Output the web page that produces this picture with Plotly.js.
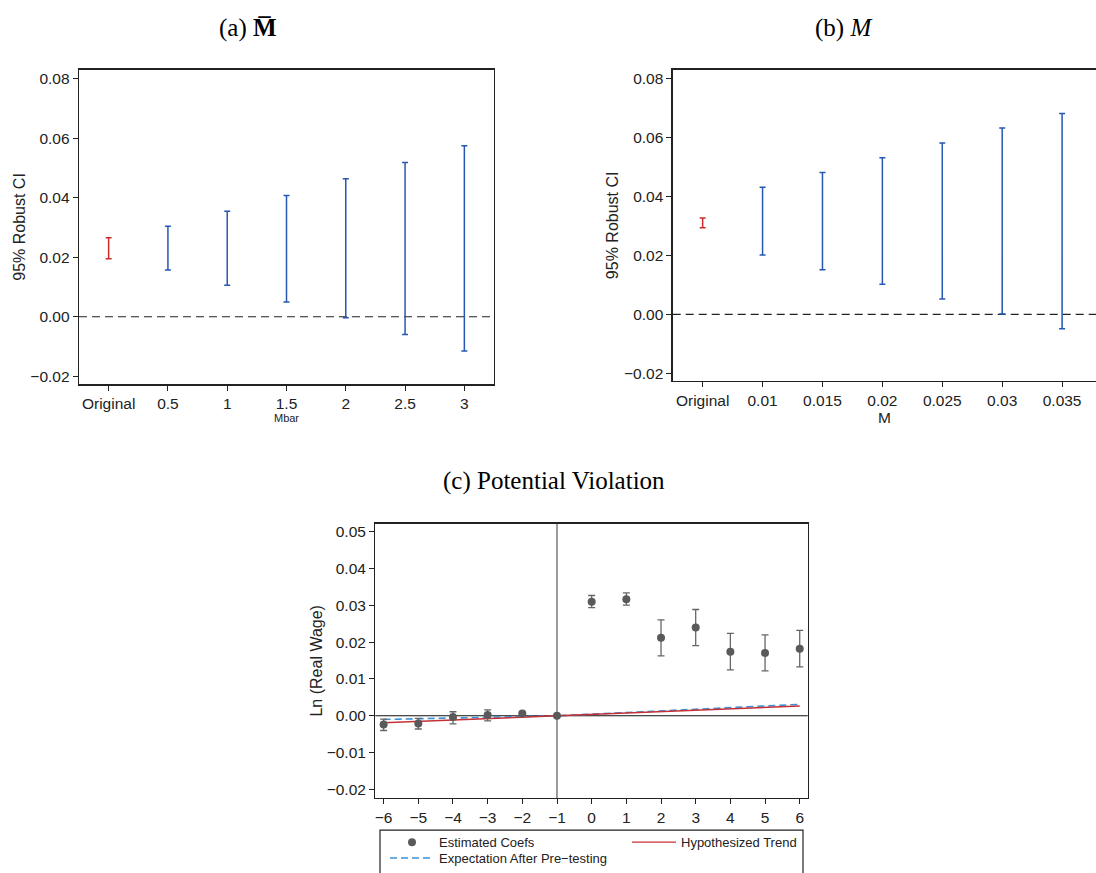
<!DOCTYPE html>
<html>
<head>
<meta charset="utf-8">
<script src="https://cdn.plot.ly/plotly-3.0.1.min.js"></script>
<style>
  html, body { margin: 0; padding: 0; background: #fff; }
  #chart { width: 1096px; height: 873px; }
</style>
</head>
<body>
<div id="chart"></div>
<script>
// (a) Robust confidence intervals by Mbar (relative magnitudes)
const mbarLabels = ['Original', '0.5', '1', '1.5', '2', '2.5', '3'];
const mbarLower  = [0.0195, 0.0157, 0.0106, 0.0050, -0.0003, -0.0060, -0.0115];
const mbarUpper  = [0.0266, 0.0304, 0.0355, 0.0408, 0.0464, 0.0519, 0.0575];

// (b) Robust confidence intervals by M (smoothness restriction)
const mLabels = ['Original', '0.01', '0.015', '0.02', '0.025', '0.03', '0.035'];
const mLower  = [0.0294, 0.0202, 0.0152, 0.0102, 0.0052, 0.0001, -0.0049];
const mUpper  = [0.0327, 0.0432, 0.0482, 0.0532, 0.0582, 0.0633, 0.0682];

// (c) Event-study coefficients with 95% CIs
const eventTime = [-6, -5, -4, -3, -2, -1, 0, 1, 2, 3, 4, 5, 6];
const coefs     = [-0.0024, -0.0021, -0.0003, 0.0002, 0.0006, 0, 0.0310, 0.0317, 0.0212, 0.0240, 0.0174, 0.0171, 0.0182];
const coefLow   = [-0.0040, -0.0036, -0.0022, -0.0014, 0.0003, 0, 0.0294, 0.0301, 0.0163, 0.0191, 0.0125, 0.0122, 0.0133];
const coefHigh  = [-0.0009, -0.0007, 0.0011, 0.0016, 0.0009, 0, 0.0327, 0.0334, 0.0261, 0.0289, 0.0224, 0.0220, 0.0232];

// Hypothesized linear trend and expectation after pre-testing
const trendX = [-6, -1, 6];
const trendY = [-0.0019, 0, 0.00266];
const expectX = [-6, -1, 6];
const expectY = [-0.0010, 0, 0.0031];

const W = 1096, H = 873;
const px = v => v / W;            // horizontal pixel -> paper
const py = v => 1 - v / H;        // vertical pixel -> paper

const SANS = 'Liberation Sans, Arial, Helvetica, sans-serif';
const SERIF = 'Liberation Serif, Times New Roman, serif';
const RED = '#cc2a2a';
const BLUE = '#2557b3';

// Interval traces: an invisible centre point with asymmetric error bars
function intervalTrace(labels, lo, hi, idx, color, xa, ya) {
  const xs = idx.map(i => labels[i]);
  const mid = idx.map(i => (lo[i] + hi[i]) / 2);
  return {
    type: 'scatter', mode: 'markers', xaxis: xa, yaxis: ya, showlegend: false,
    x: xs, y: mid,
    marker: { size: 1, color: 'rgba(0,0,0,0)' },
    error_y: {
      type: 'data', symmetric: false,
      array: idx.map((i, k) => hi[i] - mid[k]),
      arrayminus: idx.map((i, k) => mid[k] - lo[i]),
      color: color, thickness: 1.5, width: 3
    },
    hoverinfo: 'skip'
  };
}

const restIdx = [1, 2, 3, 4, 5, 6];

const traces = [
  intervalTrace(mbarLabels, mbarLower, mbarUpper, [0], RED, 'x', 'y'),
  intervalTrace(mbarLabels, mbarLower, mbarUpper, restIdx, BLUE, 'x', 'y'),
  intervalTrace(mLabels, mLower, mUpper, [0], RED, 'x2', 'y2'),
  intervalTrace(mLabels, mLower, mUpper, restIdx, BLUE, 'x2', 'y2'),
  {
    type: 'scatter', mode: 'lines', xaxis: 'x3', yaxis: 'y3',
    name: 'Expectation After Pre\u2212testing', legend: 'legend2',
    x: expectX, y: expectY,
    line: { color: '#3a93d8', width: 1.6, dash: '7px,4px' }
  },
  {
    type: 'scatter', mode: 'lines', xaxis: 'x3', yaxis: 'y3',
    name: 'Hypothesized Trend', legend: 'legend', legendrank: 2,
    x: trendX, y: trendY,
    line: { color: '#c53035', width: 1.4 }
  },
  {
    type: 'scatter', mode: 'markers', xaxis: 'x3', yaxis: 'y3',
    name: 'Estimated Coefs', legend: 'legend', legendrank: 1,
    x: eventTime, y: coefs,
    marker: { size: 8, color: '#5a5a5a' },
    error_y: {
      type: 'data', symmetric: false,
      array: coefHigh.map((h, i) => h - coefs[i]),
      arrayminus: coefLow.map((l, i) => coefs[i] - l),
      color: '#666666', thickness: 1.3, width: 3.5
    }
  }
];

const axisCommon = {
  showline: true, linecolor: '#222', linewidth: 1.3,
  ticks: 'outside', ticklen: 5, tickcolor: '#222', tickwidth: 1,
  tickfont: { family: SANS, size: 15.5, color: '#222' },
  showgrid: false, zeroline: false
};

const legendCommon = {
  orientation: 'h', xanchor: 'left', yanchor: 'top',
  xref: 'paper', yref: 'paper', itemwidth: 44,
  bgcolor: 'rgba(0,0,0,0)', borderwidth: 0,
  font: { family: SANS, size: 13, color: '#222' },
  itemclick: false, itemdoubleclick: false
};

const layout = {
  width: W, height: H,
  margin: { l: 0, r: 0, t: 0, b: 0 },
  paper_bgcolor: '#fff', plot_bgcolor: '#fff',
  font: { family: SANS, color: '#222' },
  hovermode: false,
  xaxis: Object.assign({}, axisCommon, {
    domain: [px(79), px(494)], anchor: 'y', mirror: true,
    type: 'category', categoryorder: 'array', categoryarray: mbarLabels,
    range: [-0.5, 6.5],
    title: { text: 'Mbar', font: { family: SANS, size: 11, color: '#222' }, standoff: 2 }
  }),
  yaxis: Object.assign({}, axisCommon, {
    domain: [py(386), py(70)], anchor: 'x', mirror: true,
    range: [-0.0227, 0.0831], tick0: 0, dtick: 0.02, tickformat: '.2f',
    title: { text: '95% Robust CI', font: { family: SANS, size: 16, color: '#222' }, standoff: 0 }
  }),
  xaxis2: Object.assign({}, axisCommon, {
    domain: [px(672.7), 1], anchor: 'y2', mirror: true,
    type: 'category', categoryorder: 'array', categoryarray: mLabels,
    range: [-0.5, 6.566],
    title: { text: 'M', font: { family: SANS, size: 15.5, color: '#222' }, standoff: 0 }
  }),
  yaxis2: Object.assign({}, axisCommon, {
    domain: [py(382.7), py(70)], anchor: 'x2', mirror: false,
    range: [-0.0226, 0.0831], tick0: 0, dtick: 0.02, tickformat: '.2f',
    title: { text: '95% Robust CI', font: { family: SANS, size: 16, color: '#222' }, standoff: 1 }
  }),
  xaxis3: Object.assign({}, axisCommon, {
    domain: [px(375.3), px(807.7)], anchor: 'y3', mirror: true,
    range: [-6.24, 6.23], tick0: 0, dtick: 1
  }),
  yaxis3: Object.assign({}, axisCommon, {
    domain: [py(801.7), py(526)], anchor: 'x3', mirror: true,
    range: [-0.02236, 0.05225], tick0: 0, dtick: 0.01, tickformat: '.2f',
    title: { text: 'Ln (Real Wage)', font: { family: SANS, size: 16, color: '#222' }, standoff: 0 }
  }),
  legend: Object.assign({}, legendCommon, {
    entrywidth: 183, entrywidthmode: 'pixels', traceorder: 'normal',
    x: px(385), y: py(831)
  }),
  legend2: Object.assign({}, legendCommon, {
    x: px(385), y: py(847)
  }),
  shapes: [
    // zero reference lines in (a) and (b)
    { type: 'line', xref: 'x domain', yref: 'y', x0: 0, x1: 1, y0: 0, y1: 0,
      line: { color: '#222', width: 1.2, dash: '8px,5px' }, layer: 'below' },
    { type: 'line', xref: 'x2 domain', yref: 'y2', x0: 0, x1: 1, y0: 0, y1: 0,
      line: { color: '#222', width: 1.2, dash: '8px,5px' }, layer: 'below' },
    // axes through the origin in (c)
    { type: 'line', xref: 'x3 domain', yref: 'y3', x0: 0, x1: 1, y0: 0, y1: 0,
      line: { color: '#111', width: 1.1 }, layer: 'below' },
    { type: 'line', xref: 'x3', yref: 'y3 domain', x0: -1, x1: -1, y0: 0, y1: 1,
      line: { color: '#666', width: 1.3 }, layer: 'below' },
    // legend frame
    { type: 'rect', xref: 'paper', yref: 'paper',
      x0: px(380), x1: px(803), y0: py(834), y1: py(885),
      line: { color: '#222', width: 1.2 }, fillcolor: 'rgba(0,0,0,0)' }
  ],
  annotations: [
    { text: '(a) <b>M\u0305</b>', xref: 'paper', yref: 'paper', x: px(248), y: py(28),
      xanchor: 'center', yanchor: 'middle', showarrow: false,
      font: { family: SERIF, size: 25, color: '#000' } },
    { text: '(b) <i>M</i>', xref: 'paper', yref: 'paper', x: px(843), y: py(28),
      xanchor: 'center', yanchor: 'middle', showarrow: false,
      font: { family: SERIF, size: 25, color: '#000' } },
    { text: '(c) Potential Violation', xref: 'paper', yref: 'paper', x: px(554), y: py(483),
      xanchor: 'center', yanchor: 'middle', showarrow: false,
      font: { family: SERIF, size: 25, color: '#000' } }
  ]
};

Plotly.newPlot('chart', traces, layout, { displayModeBar: false, staticPlot: true });
</script>
</body>
</html>
